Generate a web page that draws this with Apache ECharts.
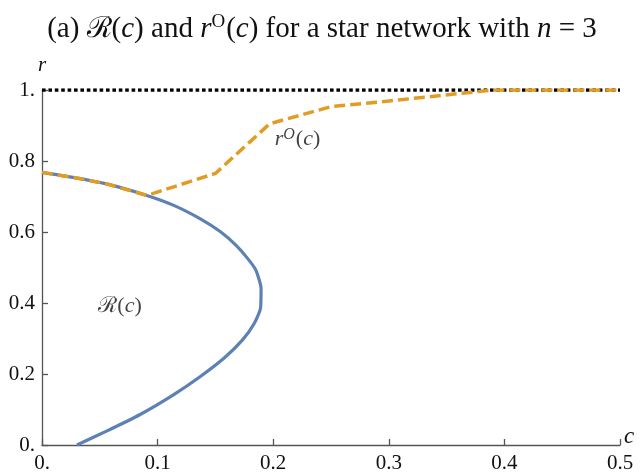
<!DOCTYPE html>
<html>
<head>
<meta charset="utf-8">
<script src="https://cdn.jsdelivr.net/npm/echarts@6/dist/echarts.min.js"></script>
<style>
  html, body { margin: 0; padding: 0; background: #fff; }
  #chart { width: 644px; height: 474px; }
</style>
</head>
<body>
<div id="chart"></div>
<script>
// R(c) boundary as [c, r] pairs (ordered along r)
var curveR = [
  [0.0302, 0.000], [0.0558, 0.039], [0.0849, 0.086], [0.114, 0.142], [0.137, 0.193],
  [0.1576, 0.245], [0.1735, 0.296], [0.1837, 0.343], [0.189, 0.385], [0.1895, 0.441],
  [0.185, 0.4925], [0.178, 0.525], [0.1677, 0.563], [0.1547, 0.600], [0.137, 0.637],
  [0.114, 0.675], [0.0907, 0.703], [0.0558, 0.7355], [0.0267, 0.754], [0.0, 0.768]
];
// r^O(c), dashed orange
var curveRO = [
  [0.0, 0.768], [0.0267, 0.754], [0.0558, 0.7355], [0.0907, 0.703], [0.15, 0.765],
  [0.197, 0.905], [0.25, 0.953], [0.30, 0.969], [0.39, 1.0], [0.50, 1.0]
];
// r = 1 reference line
var topLine = [[0.0, 1.0], [0.5, 1.0]];
// in-plot labels
var labelR = [0.0675, 0.39];
var labelRO = [0.221, 0.86];

var serif = "'Liberation Serif', 'DejaVu Serif', serif";
var myChart = echarts.init(document.getElementById("chart"));

function tickText(v) {
  if (v === 0) return "0.";
  if (v === 1) return "1.";
  return v.toFixed(1);
}

var option = {
  animation: false,
  title: {
    text: "(a) {s|ℛ}({i|c}) and {i|r}{sup|O}({i|c}) for a star network with {i|n} = 3",
    left: "center",
    top: 8,
    textStyle: {
      fontFamily: serif,
      fontWeight: "normal",
      fontSize: 29,
      color: "#111",
      rich: {
        i: { fontFamily: serif, fontStyle: "italic", fontSize: 29, color: "#111" },
        s: { fontFamily: serif, fontSize: 29, color: "#111" },
        sup: { fontFamily: serif, fontSize: 19, color: "#111", verticalAlign: "top", padding: [0, 1, 13, 0] }
      }
    }
  },
  grid: {
    left: 42, right: 24, top: 90, bottom: 29,
    containLabel: false,
    outerBoundsMode: "none"
  },
  xAxis: {
    type: "value",
    min: 0, max: 0.5, interval: 0.1,
    name: "c",
    nameLocation: "end",
    nameGap: 4,
    nameMoveOverlap: false,
    nameTextStyle: { fontFamily: serif, fontStyle: "italic", fontSize: 23, color: "#111", verticalAlign: "bottom", lineHeight: 16 },
    axisLine: { show: true, lineStyle: { color: "#555", width: 1.3 } },
    axisTick: { show: true, inside: true, length: 6, lineStyle: { color: "#555", width: 1.3 } },
    axisLabel: { formatter: tickText, fontFamily: serif, fontSize: 21, color: "#111", margin: 8 },
    splitLine: { show: false }
  },
  yAxis: {
    type: "value",
    min: 0, max: 1, interval: 0.2,
    name: "r",
    nameLocation: "end",
    nameGap: 14,
    nameMoveOverlap: false,
    nameTextStyle: { fontFamily: serif, fontStyle: "italic", fontSize: 21, color: "#111", align: "center" },
    axisLine: { show: true, lineStyle: { color: "#555", width: 1.3 } },
    axisTick: { show: true, inside: true, length: 6, lineStyle: { color: "#555", width: 1.3 } },
    axisLabel: { formatter: tickText, fontFamily: serif, fontSize: 21, color: "#111", margin: 7 },
    splitLine: { show: false }
  },
  series: [
    {
      type: "line",
      data: curveR,
      smooth: 0.2,
      showSymbol: false,
      lineStyle: { color: "#5E81B5", width: 3.2 },
      z: 2
    },
    {
      type: "line",
      data: topLine,
      showSymbol: false,
      lineStyle: { color: "#000", width: 3.3, type: [3.6, 2.8] },
      z: 3
    },
    {
      type: "line",
      data: curveRO,
      showSymbol: false,
      lineStyle: { color: "#E19C24", width: 3.5, type: [11, 5] },
      z: 4
    },
    {
      type: "scatter",
      symbolSize: 0,
      data: [labelR, labelRO],
      z: 5,
      label: {
        show: true,
        position: "inside",
        formatter: function (p) {
          return p.dataIndex === 0 ? "{s|ℛ}({i|c})" : "{i|r}{sup|O}({i|c})";
        },
        fontFamily: serif,
        fontSize: 22,
        color: "#111",
        rich: {
          i: { fontFamily: serif, fontStyle: "italic", fontSize: 22, color: "#111" },
          s: { fontFamily: serif, fontSize: 22, color: "#111" },
          sup: { fontFamily: serif, fontStyle: "italic", fontSize: 16, color: "#111", verticalAlign: "top", padding: [0, 1, 10, 0] }
        }
      }
    }
  ]
};

myChart.setOption(option);
</script>
</body>
</html>
